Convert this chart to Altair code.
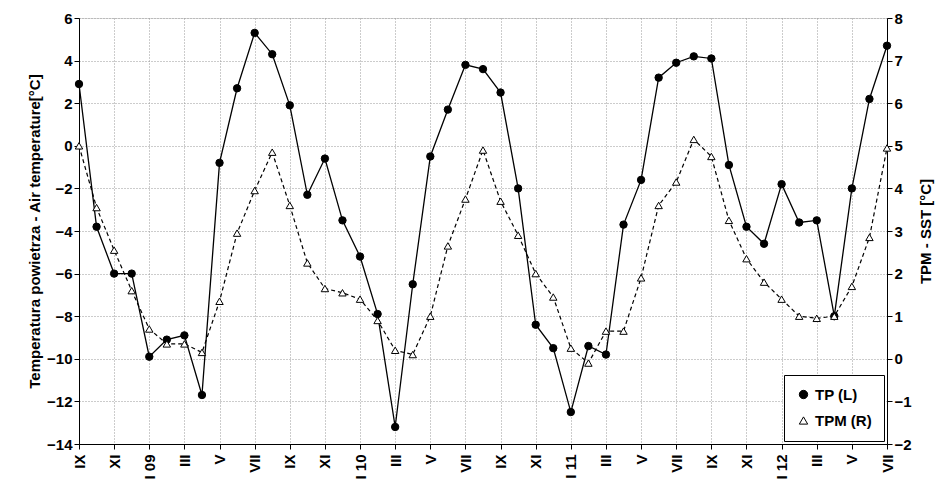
import altair as alt
import pandas as pd

tp = [2.9, -3.8, -6.0, -6.0, -9.9, -9.1, -8.9, -11.7, -0.8, 2.7, 5.3, 4.3,
      1.9, -2.3, -0.6, -3.5, -5.2, -7.9, -13.2, -6.5, -0.5, 1.7, 3.8, 3.6,
      2.5, -2.0, -8.4, -9.5, -12.5, -9.4, -9.8, -3.7, -1.6, 3.2, 3.9, 4.2,
      4.1, -0.9, -3.8, -4.6, -1.8, -3.6, -3.5, -8.0, -2.0, 2.2, 4.7]
tpm = [5.0, 3.55, 2.55, 1.6, 0.7, 0.35, 0.35, 0.15, 1.35, 2.95, 3.95, 4.85,
       3.6, 2.25, 1.65, 1.55, 1.4, 0.9, 0.2, 0.1, 1.0, 2.65, 3.75, 4.9,
       3.7, 2.9, 2.0, 1.45, 0.25, -0.1, 0.65, 0.65, 1.9, 3.6, 4.15, 5.15,
       4.75, 3.25, 2.35, 1.8, 1.4, 1.0, 0.95, 1.0, 1.7, 2.85, 4.95]
tick_labels = ["IX", "XI", "I 09", "III", "V", "VII", "IX", "XI", "I 10", "III", "V", "VII",
               "IX", "XI", "I 11", "III", "V", "VII", "IX", "XI", "I 12", "III", "V", "VII"]

idx = list(range(len(tp)))
df_tp = pd.DataFrame({"idx": idx, "value": tp, "series": "TP (L)"})
df_tpm = pd.DataFrame({"idx": idx, "value": tpm, "series": "TPM (R)"})

font = "Liberation Sans"
label_js = "[" + ",".join(f"'{l}'" for l in tick_labels) + "]"
txt = dict(labelFont=font, labelFontWeight="bold", labelFontSize=15, labelColor="black",
           titleFont=font, titleFontWeight="bold", titleFontSize=15, titleColor="black",
           domainColor="black", tickColor="black")

x = alt.X("idx:Q", scale=alt.Scale(domain=[0, 46], nice=False),
          axis=alt.Axis(values=list(range(0, 47, 2)), labelAngle=-90,
                        labelExpr=f"{label_js}[datum.value / 2]", title=None,
                        labelAlign="right", labelBaseline="middle", labelPadding=5,
                        gridDash=[1, 2], gridColor="#999", **txt))

series_domain = ["TP (L)", "TPM (R)"]
shape = alt.Shape("series:N", scale=alt.Scale(domain=series_domain, range=["circle", "triangle-up"]),
                  legend=alt.Legend(title=None, orient="bottom-right", strokeColor="black",
                                    fillColor="white", padding=12, labelFontSize=15,
                                    labelFont=font, labelFontWeight="bold", labelColor="black",
                                    symbolSize=70, symbolStrokeWidth=1,
                                    rowPadding=10, offset=3))
fill = alt.Fill("series:N", scale=alt.Scale(domain=series_domain, range=["black", "white"]), legend=None)
stroke = alt.Stroke("series:N", scale=alt.Scale(domain=series_domain, range=["black", "black"]), legend=None)

y_left = alt.Y("value:Q", scale=alt.Scale(domain=[-14, 6], nice=False),
               axis=alt.Axis(values=list(range(-14, 7, 2)), title="Temperatura powietrza - Air temperature[°C]",
                             gridDash=[1, 2], gridColor="#999", **txt))
y_right = alt.Y("value:Q", scale=alt.Scale(domain=[-2, 8], nice=False),
                axis=alt.Axis(values=list(range(-2, 9)), orient="right", title="TPM - SST [°C]",
                              titleAngle=270, titlePadding=22, grid=False, **txt))

tp_line = alt.Chart(df_tp).mark_line(color="black", strokeWidth=1.3).encode(x=x, y=y_left)
tp_pts = alt.Chart(df_tp).mark_point(size=55, opacity=1, strokeWidth=1).encode(
    x=x, y=y_left, shape=shape, fill=fill, stroke=stroke)
left = alt.layer(tp_line, tp_pts)

tpm_line = alt.Chart(df_tpm).mark_line(color="black", strokeWidth=1.2, strokeDash=[4, 3]).encode(x=x, y=y_right)
tpm_pts = alt.Chart(df_tpm).mark_point(size=55, opacity=1, strokeWidth=1).encode(
    x=x, y=y_right, shape=shape, fill=fill, stroke=stroke)
right = alt.layer(tpm_line, tpm_pts)

chart = alt.layer(left, right).resolve_scale(y="independent").properties(
    width=808, height=426,
    autosize=alt.AutoSizeParams(type="none"),
    padding={"left": 71, "top": 10, "right": 56, "bottom": 45},
).configure_view(stroke="black").configure(background="white")

chart.save("out.html", embed_options={"renderer": "svg", "actions": False})
